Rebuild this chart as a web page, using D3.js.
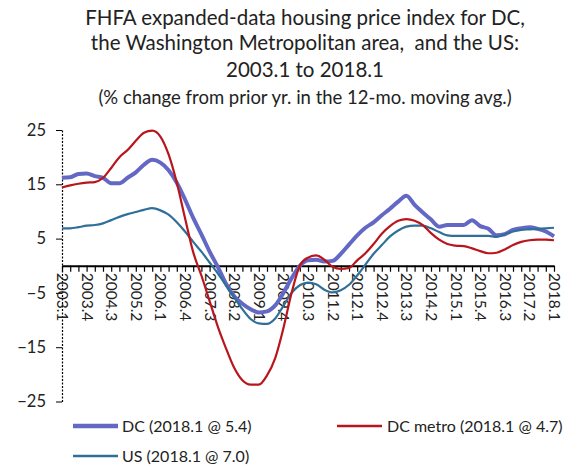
<!DOCTYPE html>
<html>
<head>
<meta charset="utf-8">
<script src="https://cdn.jsdelivr.net/npm/d3@7"></script>
<style>
  html, body { margin: 0; padding: 0; background: #fff; }
  svg { display: block; font-family: Lato, "Open Sans", sans-serif; }
</style>
</head>
<body>
<svg id="chart" width="578" height="467"></svg>
<script>
// quarters 2003.1 .. 2018.1
const quarters = [];
for (let y = 2003; y <= 2018; y++) {
  for (let q = 1; q <= 4; q++) {
    if (y === 2018 && q > 1) break;
    quarters.push(y + "." + q);
  }
}
const tickLabels = ["2003.1","2003.4","2004.3","2005.2","2006.1","2006.4","2007.3","2008.2","2009.1","2009.4",
  "2010.3","2011.2","2012.1","2012.4","2013.3","2014.2","2015.1","2015.4","2016.3","2017.2","2018.1"];
const yTicks = [25, 15, 5, -5, -15, -25];

const dcValues = [16.2,16.3,16.9,17.0,16.5,16.2,15.2,15.2,16.2,17.2,
  18.6,19.5,19.0,17.6,15.3,12.2,8.8,5.8,2.6,-0.2,
  -3.3,-5.6,-7.0,-8.0,-8.6,-8.4,-7.3,-5.0,-2.3,0.0,
  1.0,1.1,0.8,0.9,2.2,3.9,5.6,7.0,8.0,9.3,
  10.5,11.8,12.9,11.2,9.8,8.5,7.2,7.5,7.5,7.5,
  8.4,7.3,6.8,5.6,5.8,6.6,6.9,7.1,6.8,6.3,5.4];
const metroValues = [14.4,14.8,15.1,15.3,15.4,16.2,18.0,20.0,21.3,23.0,
  24.5,24.9,23.8,20.5,15.3,8.8,2.5,-1.8,-6.5,-11.2,
  -15.2,-18.8,-21.1,-21.9,-21.9,-20.2,-17.0,-11.5,-5.0,0.0,
  1.5,1.9,1.1,-0.2,-0.6,-0.4,1.0,2.3,4.0,5.9,
  7.3,8.3,8.6,8.3,7.5,6.0,4.8,4.0,3.7,3.6,
  3.2,2.7,2.3,2.4,3.0,3.8,4.4,4.7,4.8,4.8,4.7];
const usValues = [6.9,6.9,7.1,7.4,7.5,7.8,8.4,9.0,9.5,9.9,
  10.3,10.6,10.2,9.4,8.0,6.3,4.4,2.6,0.6,-1.4,
  -3.6,-5.8,-8.0,-9.8,-10.6,-10.7,-9.7,-7.4,-5.0,-3.6,
  -3.1,-3.4,-4.4,-4.9,-4.5,-3.5,-1.8,0.2,2.2,3.8,
  5.4,6.5,7.2,7.4,7.4,6.9,6.2,5.6,5.5,5.5,
  5.5,5.5,5.5,5.3,5.8,6.3,6.6,6.7,6.8,6.9,7.0];

const seriesNames = ["DC (2018.1 @ 5.4)", "DC metro (2018.1 @ 4.7)", "US (2018.1 @ 7.0)"];
const seriesColors = ["#6368c4", "#b8161c", "#2f6f98"];
const seriesWidths = [4, 2.2, 2.2];
const seriesData = [dcValues, metroValues, usValues];

const svg = d3.select("#chart");

// title
const titleLines = [
  {t: "FHFA expanded-data housing price index for DC,", y: 25, s: 20.5},
  {t: "the Washington Metropolitan area,  and the US:", y: 50, s: 20.5},
  {t: "2003.1 to 2018.1", y: 77, s: 20.5},
  {t: "(% change from prior yr. in the 12-mo. moving avg.)", y: 104, s: 18.5}
];
svg.selectAll("text.title").data(titleLines).enter().append("text")
  .attr("class", "title")
  .attr("x", 305).attr("y", d => d.y)
  .attr("text-anchor", "middle")
  .attr("font-size", d => d.s)
  .attr("fill", "#222")
  .style("white-space", "pre")
  .text(d => d.t);

const x = d3.scalePoint().domain(quarters).range([62, 554]);
const y = d3.scaleLinear().domain([-25, 25]).range([401.5, 130]);

// y axis
const yAxis = svg.append("g").attr("transform", "translate(62,0)")
  .call(d3.axisLeft(y).tickValues(yTicks).tickSize(6).tickSizeOuter(0).tickFormat(d3.format("d")));
yAxis.select(".domain").attr("stroke", "#000").attr("stroke-width", 1.2).attr("stroke-dasharray", "2,1.5");
yAxis.selectAll(".tick line").attr("stroke", "#000");
yAxis.selectAll(".tick text").attr("font-size", 16.5).attr("fill", "#222").attr("x", -16)
  .style("font-family", "Lato, sans-serif");

// x axis at zero
const xAxis = svg.append("g").attr("transform", `translate(0,${y(0)})`)
  .call(d3.axisBottom(x).tickValues(quarters).tickSize(6).tickSizeOuter(0).tickFormat(""));
xAxis.select(".domain").attr("stroke", "#000").attr("stroke-width", 2);
xAxis.selectAll(".tick line").attr("stroke", "#000").attr("stroke-width", 1.2);

// rotated tick labels
svg.append("g").selectAll("text").data(tickLabels).enter().append("text")
  .attr("transform", d => `translate(${x(d) - 5},${y(0) + 7}) rotate(90)`)
  .attr("text-anchor", "start")
  .attr("font-size", 15.5)
  .attr("fill", "#222")
  .text(d => d);

// lines
const line = d3.line().x((d, i) => x(quarters[i])).y(d => y(d)).curve(d3.curveMonotoneX);
const order = [0, 2, 1];
order.forEach(k => {
  svg.append("path").datum(seriesData[k])
    .attr("fill", "none")
    .attr("stroke", seriesColors[k])
    .attr("stroke-width", seriesWidths[k])
    .attr("stroke-linejoin", "round")
    .attr("d", line);
});

// legend
const legendItems = [
  {k: 0, x1: 73, x2: 118, ty: 426, tx: 122},
  {k: 1, x1: 337, x2: 382, ty: 426, tx: 387},
  {k: 2, x1: 73, x2: 118, ty: 456, tx: 122}
];
const lg = svg.append("g");
legendItems.forEach(it => {
  lg.append("line").attr("x1", it.x1).attr("x2", it.x2).attr("y1", it.ty).attr("y2", it.ty)
    .attr("stroke", seriesColors[it.k]).attr("stroke-width", seriesWidths[it.k] + 0.5);
  lg.append("text").attr("x", it.tx).attr("y", it.ty + 5.5)
    .attr("font-size", 16).attr("fill", "#222").text(seriesNames[it.k]);
});
</script>
</body>
</html>
